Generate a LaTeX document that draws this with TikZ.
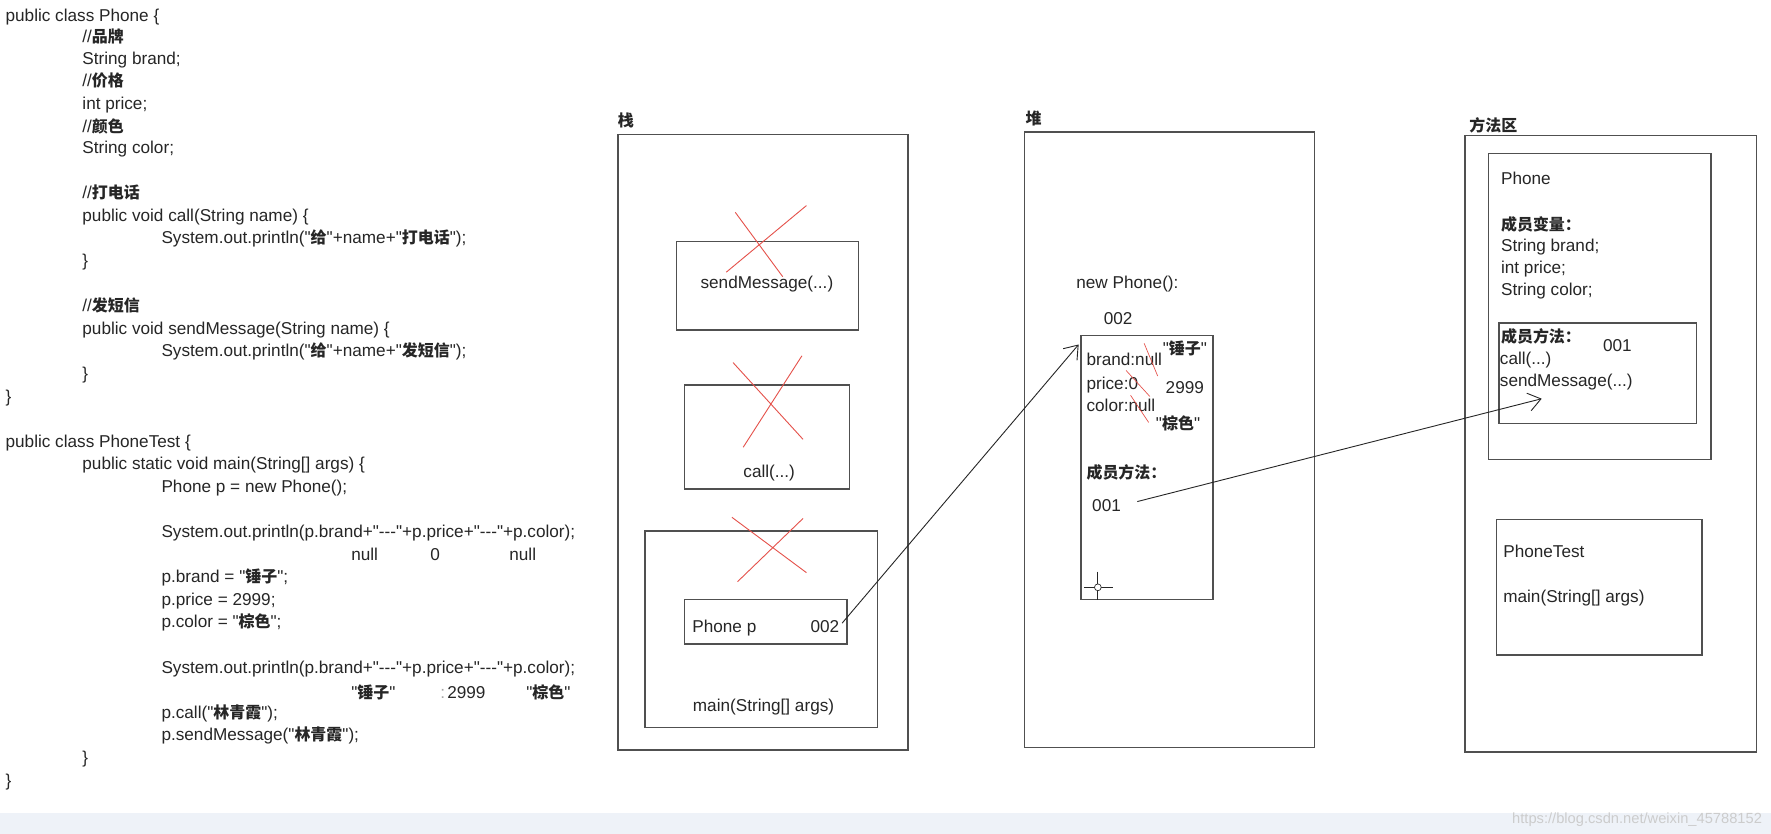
\documentclass[tikz,border=0pt]{standalone}
\usepackage{fontspec}
\setmainfont{Liberation Sans}[Ligatures=TeXOff]
\newfontfamily\cjk{Noto Sans CJK SC}[Scale=0.93]
\newcommand{\cn}[1]{{\cjk\bfseries #1}}
\newcommand{\codesize}{\fontsize{15.2}{20}\selectfont}
\usetikzlibrary{positioning,arrows.meta}
\definecolor{inkgray}{HTML}{262626}
\definecolor{boxgray}{HTML}{505050}
\definecolor{crossred}{HTML}{E5514A}
\definecolor{bandblue}{HTML}{EEF2F8}

\begin{document}
\begin{tikzpicture}[x=1pt, y=-1pt,
	every node/.append style={inner sep=0pt, outer sep=0pt, text=inkgray, font=\codesize},
	txt/.style={anchor=base west},
	ctr/.style={anchor=base},
	area/.style={draw=boxgray, line width=1.3pt, anchor=north west},
	strike/.style={draw=crossred, line width=0.8pt},
	pointer/.style={draw=inkgray, line width=0.8pt, -{Straight Barb[length=11pt,width=16pt]}}]
	\fill[white] (0,0) rectangle (1568,738);
	\fill[bandblue] (0,720) rectangle (1568,738);
	\useasboundingbox (0,0) rectangle (1568,738);

	\foreach \x/\y/\t [count=\i] in {
		5/14/{public class Phone \{},
		73/33/{//\cn{品牌}},
		73/52/{String brand;},
		73/72/{//\cn{价格}},
		73/92/{int price;},
		73/112/{//\cn{颜色}},
		73/131/{String color;},
		73/171/{//\cn{打电话}},
		73/191/{public void call(String name) \{},
		143/211/{System.out.println("\cn{给}"+name+"\cn{打电话}");},
		73/231/{\}},
		73/271/{//\cn{发短信}},
		73/291/{public void sendMessage(String name) \{},
		143/311/{System.out.println("\cn{给}"+name+"\cn{发短信}");},
		73/331/{\}},
		5/351/{\}},
		5/391/{public class PhoneTest \{},
		73/411/{public static void main(String[] args) \{},
		143/431/{Phone p = new Phone();},
		143/471/{System.out.println(p.brand+"---"+p.price+"---"+p.color);},
		311/491/{null},
		381/491/{0},
		451/491/{null},
		143/511/{p.brand = "\cn{锤子}";},
		143/531/{p.price = 2999;},
		143/551/{p.color = "\cn{棕色}";},
		143/591/{System.out.println(p.brand+"---"+p.price+"---"+p.color);},
		311/613/{"\cn{锤子}"},
		396/613/{2999},
		466/613/{"\cn{棕色}"},
		143/631/{p.call("\cn{林青霞}");},
		143/651/{p.sendMessage("\cn{林青霞}");},
		73/671/{\}},
		5/691/{\}}}
		\node[txt] (code\i) at (\x,\y+5) {\t};
	\node[txt, text=black!35] (colonmark) at (390,613+5) {:};

	\node[area, minimum width=257pt, minimum height=545pt] (stack) at (547,119) {};
	\node[above right=6pt and 0pt of stack.north west] (stacklbl) {\cn{栈}};
	\node[area, minimum width=161pt, minimum height=78pt] (sendbox) at (599,214) {};
	\node[ctr] (sendtxt) at (679,255) {sendMessage(...)};
	\node[area, minimum width=146pt, minimum height=92pt] (callbox) at (606,341) {};
	\node[ctr] (calltxt) at (681,423) {call(...)};
	\node[area, minimum width=206pt, minimum height=174pt] (mainbox) at (571,470) {};
	\node[ctr] (maintxt) at (676,630) {main(String[] args)};
	\node[area, minimum width=144pt, minimum height=39pt] (pbox) at (606,531) {};
	\node[txt] (pname) at (613,560) {Phone p};
	\node[anchor=base east] (ptr) at (743,560) {002};
	\draw[strike] (651,188) -- (693,245) (714,182) -- (643,241);
	\draw[strike] (649,321) -- (711,389) (710,315) -- (658,396);
	\draw[strike] (648,458) -- (714,507) (711,459) -- (653,515);

	\node[area, minimum width=257pt, minimum height=545pt] (heap) at (907,117) {};
	\node[above right=5pt and 1pt of heap.north west] (heaplbl) {\cn{堆}};
	\node[txt] (newobj) at (953,255) {new Phone():};
	\node[ctr] (objaddr) at (990,287) {002};
	\node[area, minimum width=117pt, minimum height=234pt] (obj) at (957,297) {};
	\node[txt] (brandf) at (962,324) {brand:null};
	\node[txt] (pricef) at (962,345) {price:0};
	\node[txt] (colorf) at (962,364) {color:null};
	\node[ctr] (brandv) at (1049,314) {"\cn{锤子}"};
	\node[ctr] (pricev) at (1049,348) {2999};
	\node[ctr] (colorv) at (1043,380) {"\cn{棕色}"};
	\draw[strike, line width=0.6pt] (1013,304) -- (1025,333) (997,328) -- (1018,351) (1001,350) -- (1017,374);
	\node[txt] (objmeth) at (962,424) {\cn{成员方法：}};
	\node[txt] (mref) at (967,453) {001};
	\draw[inkgray, line width=0.8pt] (960,520) -- (985,520) (972,506) -- (972,531);
	\draw[inkgray, line width=0.6pt, fill=white] (972,520) circle (3);

	\node[area, minimum width=258pt, minimum height=546pt] (methods) at (1297,120) {};
	\node[above right=2pt and 4pt of methods.north west] (methlbl) {\cn{方法区}};
	\node[area, minimum width=197pt, minimum height=271pt] (phonecls) at (1318,136) {};
	\node[txt] (clsname) at (1329,163) {Phone};
	\node[txt] (fieldhdr) at (1329,204) {\cn{成员变量：}};
	\node[txt] (fbrand) at (1329,223) {String brand;};
	\node[txt] (fprice) at (1329,242) {int price;};
	\node[txt] (fcolor) at (1329,262) {String color;};
	\node[area, minimum width=175pt, minimum height=89pt] (methbox) at (1327,286) {};
	\node[txt] (methhdr) at (1329,303) {\cn{成员方法：}};
	\node[ctr] (maddr) at (1432,311) {001};
	\node[txt] (mcall) at (1328,323) {call(...)};
	\node[txt] (msend) at (1328,342) {sendMessage(...)};
	\coordinate (mtip) at (1365,353);
	\node[area, minimum width=182pt, minimum height=120pt] (testcls) at (1325,460) {};
	\node[txt] (testname) at (1331,494) {PhoneTest};
	\node[txt] (testmain) at (1331,533) {main(String[] args)};

	\coordinate (objin) at ([shift={(-2,8)}]obj.north west);
	\draw[pointer, shorten <=4pt] (ptr.east) -- (objin);
	\draw[pointer, shorten <=15pt] (mref.east) -- (mtip);

	\node[anchor=base east, text=black!20, font=\fontsize{13}{13}\selectfont] (wmark) at (1560,729) {https://blog.csdn.net/weixin\_45788152};
\end{tikzpicture}
\end{document}
